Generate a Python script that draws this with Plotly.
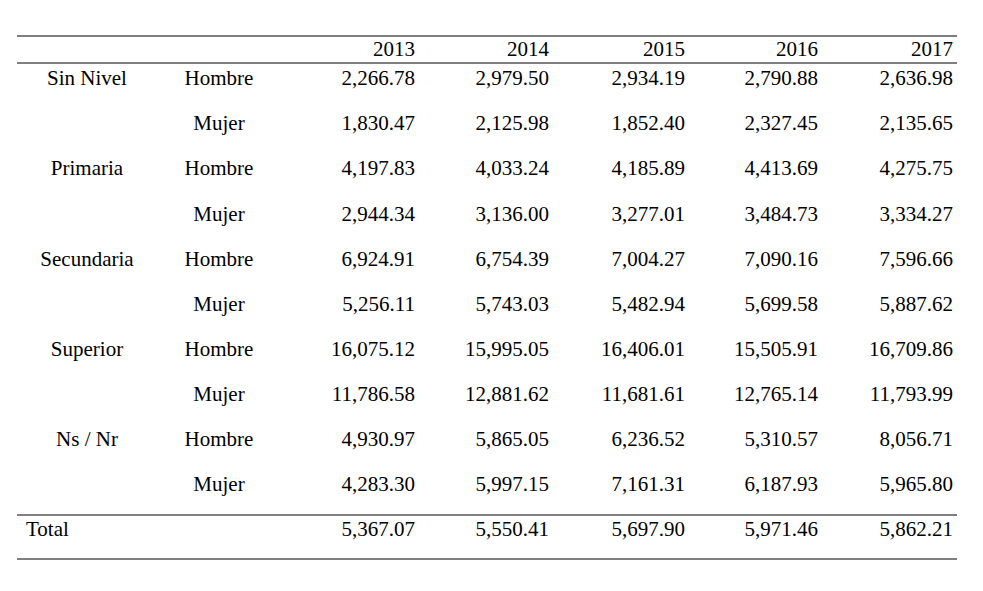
import plotly.graph_objects as go

years = ["2013", "2014", "2015", "2016", "2017"]
levels = ["Sin Nivel", "Primaria", "Secundaria", "Superior", "Ns / Nr"]
sexes = ["Hombre", "Mujer"]
values = [
    ["2,266.78", "2,979.50", "2,934.19", "2,790.88", "2,636.98"],
    ["1,830.47", "2,125.98", "1,852.40", "2,327.45", "2,135.65"],
    ["4,197.83", "4,033.24", "4,185.89", "4,413.69", "4,275.75"],
    ["2,944.34", "3,136.00", "3,277.01", "3,484.73", "3,334.27"],
    ["6,924.91", "6,754.39", "7,004.27", "7,090.16", "7,596.66"],
    ["5,256.11", "5,743.03", "5,482.94", "5,699.58", "5,887.62"],
    ["16,075.12", "15,995.05", "16,406.01", "15,505.91", "16,709.86"],
    ["11,786.58", "12,881.62", "11,681.61", "12,765.14", "11,793.99"],
    ["4,930.97", "5,865.05", "6,236.52", "5,310.57", "8,056.71"],
    ["4,283.30", "5,997.15", "7,161.31", "6,187.93", "5,965.80"],
]
totals = ["5,367.07", "5,550.41", "5,697.90", "5,971.46", "5,862.21"]

# page offset of the plot div (body margin) compensated here
dx, dy = -8, -7
col_x = [415 + dx, 549 + dx, 685 + dx, 818 + dx, 953 + dx]
row_y = [79 + dy + 45.1 * i for i in range(10)]
font = dict(family="Liberation Serif", size=21, color="black")

fig = go.Figure()

# header + numbers, right aligned at column edge
xs, ys, ts = [], [], []
for j, yr in enumerate(years):
    xs.append(col_x[j]); ys.append(50 + dy); ts.append(yr)
for i, row in enumerate(values):
    for j, v in enumerate(row):
        xs.append(col_x[j]); ys.append(row_y[i]); ts.append(v)
for j, v in enumerate(totals):
    xs.append(col_x[j]); ys.append(530 + dy); ts.append(v)
fig.add_trace(go.Scatter(x=xs, y=ys, text=ts, mode="text",
                         textposition="middle left", textfont=font))

# row labels, centered
lx, ly, lt = [], [], []
for i, lev in enumerate(levels):
    lx.append(87 + dx); ly.append(row_y[2 * i]); lt.append(lev)
for i in range(10):
    lx.append(219 + dx); ly.append(row_y[i]); lt.append(sexes[i % 2])
fig.add_trace(go.Scatter(x=lx, y=ly, text=lt, mode="text",
                         textposition="middle center", textfont=font))

fig.add_trace(go.Scatter(x=[26 + dx], y=[530 + dy], text=["Total"], mode="text",
                         textposition="middle right", textfont=font))

for y in [35, 62, 514, 558]:
    fig.add_shape(type="line", x0=17 + dx, x1=957 + dx, y0=y + dy, y1=y + dy,
                  line=dict(color="black", width=1))

fig.update_layout(
    width=983, height=591, showlegend=False,
    plot_bgcolor="white", paper_bgcolor="white",
    margin=dict(l=0, r=0, t=0, b=0),
    xaxis=dict(range=[0, 983], visible=False),
    yaxis=dict(range=[591, 0], visible=False),
)
fig.write_html("out.html")
